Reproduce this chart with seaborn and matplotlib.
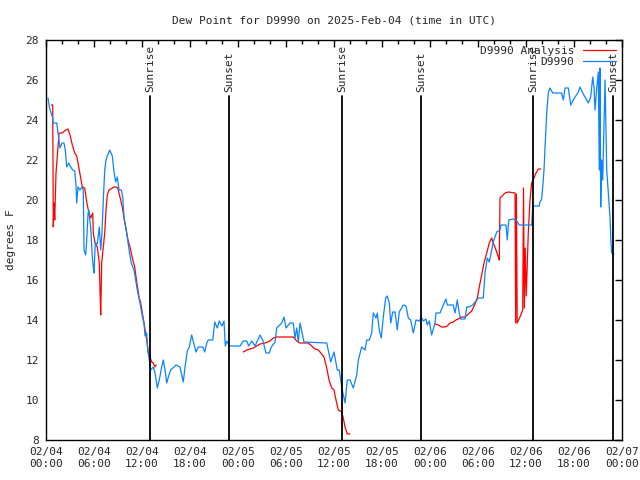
import seaborn as sns
import matplotlib.pyplot as plt
import pandas as pd
from matplotlib.lines import Line2D
from matplotlib.ticker import MultipleLocator

# hours since 2025-02-04 00:00 UTC, dew point in degrees F
obs_hours = [0.25, 0.44, 0.84, 0.88, 1.34, 1.59, 1.75, 2.0, 2.25, 2.41, 2.59, 2.84, 3.09, 3.34,
             3.59, 3.75, 3.84, 4.0, 4.25, 4.5, 4.66, 4.75, 4.96, 5.09, 5.25, 5.34, 5.59, 5.79,
             5.91, 6.0, 6.16, 6.41, 6.66, 6.84, 7.0, 7.16, 7.34, 7.5, 7.66, 7.88, 7.96, 8.29,
             8.5, 8.71, 8.91, 9.13, 9.41, 9.59, 9.75, 10.16, 10.38, 10.66, 11.0, 11.41, 11.75,
             12.04, 12.25, 12.38, 12.59, 12.71, 12.91, 13.09, 13.41, 13.63, 13.91, 14.16, 14.46,
             14.66, 14.88, 15.09, 15.29, 15.59, 16.25, 16.75, 17.16, 17.38, 17.66, 17.91, 18.21,
             18.75, 19.04, 19.59, 19.84, 20.09, 20.29, 20.84, 21.09, 21.41, 21.66, 22.0, 22.25,
             22.41, 22.59, 22.91, 24.25, 24.66, 25.09, 25.34, 25.71, 26.13, 26.75, 27.09, 27.5,
             27.91, 28.16, 28.63, 28.84, 29.46, 29.75, 30.0, 30.5, 30.91, 31.13, 31.34, 31.54,
             31.75, 32.25, 35.09, 35.59, 36.0, 36.41, 36.66, 36.96, 37.38, 37.66, 38.0, 38.41,
             38.84, 39.04, 39.46, 39.88, 40.09, 40.41, 40.71, 40.91, 41.25, 41.41, 41.66, 41.91,
             42.16, 42.46, 42.66, 42.91, 43.09, 43.34, 43.63, 43.91, 44.16, 44.66, 45.0, 45.29,
             45.59, 45.91, 46.25, 46.66, 46.91, 47.16, 47.5, 47.66, 47.91, 48.21, 48.63, 48.75,
             49.25, 49.66, 50.0, 50.16, 50.91, 51.13, 51.41, 51.66, 51.84, 52.38, 52.59, 52.91,
             53.34, 54.04, 54.66, 54.88, 55.16, 55.41, 55.71, 55.91, 56.34, 56.75, 56.88, 57.5,
             57.66, 57.84, 58.34, 58.75, 59.16, 59.88, 60.71, 60.84, 61.66, 61.75, 61.96, 62.09,
             62.25, 62.38, 62.59, 62.79, 63.0, 63.34, 64.46, 64.66, 64.88, 65.29, 65.59, 65.91,
             66.54, 66.75, 67.09, 67.59, 67.79, 68.09, 68.34, 68.5, 68.63, 68.84, 69.04, 69.16,
             69.25, 69.34, 69.46, 69.59, 69.88, 70.09, 70.29, 70.5, 70.59, 70.71, 71.0]
obs_dewpt = [25.1, 24.6, 24.1, 23.85, 23.85, 23.1, 22.6, 22.85, 22.85, 22.5, 21.65, 21.85, 21.65, 21.5,
             21.45, 20.75, 19.85, 20.65, 20.5, 20.65, 20.5, 17.5, 17.25, 18.0, 19.3, 19.5, 18.6, 17.15,
             16.65, 16.35, 17.85, 17.8, 18.65, 17.5, 18.35, 20.0, 21.5, 22.0, 22.2, 22.4, 22.5, 22.2,
             21.4, 20.9, 21.15, 20.5, 20.5, 20.15, 19.15, 18.15, 17.5, 16.85, 16.5, 15.5, 14.85,
             14.2, 13.85, 13.2, 13.35, 12.5, 12.0, 11.5, 11.65, 11.35, 10.6, 11.0, 11.65,
             12.0, 11.5, 10.85, 11.15, 11.5, 11.75, 11.65, 10.9, 11.65, 12.45, 12.65, 13.25,
             12.4, 12.65, 12.65, 12.4, 12.85, 13.0, 13.0, 13.9, 13.6, 13.95, 13.7, 13.95,
             12.7, 12.95, 12.7, 12.7, 12.95, 12.95, 12.7, 12.95, 12.7, 13.25, 13.0, 12.35,
             12.35, 12.65, 12.9, 13.6, 13.85, 14.15, 13.6, 13.85, 13.85, 13.1, 13.6, 12.9,
             13.85, 12.9, 12.85, 11.9, 12.4, 11.5, 11.5, 10.65, 9.85, 11.0, 11.0, 10.6,
             11.25, 12.0, 12.65, 12.5, 13.0, 13.0, 13.35, 14.35, 14.1, 14.35, 13.5, 13.1,
             14.15, 15.1, 15.2, 14.85, 13.85, 14.4, 14.4, 13.5, 14.4, 14.75, 14.7, 14.1,
             14.0, 13.35, 14.0, 13.95, 14.15, 13.95, 14.05, 13.75, 13.95, 13.25, 13.85, 14.35,
             14.35, 14.75, 15.05, 14.75, 14.75, 14.35, 15.0, 14.35, 14.05, 14.05, 14.65, 14.65,
             14.75, 15.1, 15.1, 16.35, 17.1, 16.9, 17.5, 17.9, 18.4, 18.5, 18.75, 18.75,
             18.0, 19.0, 19.05, 19.0, 18.75, 18.75, 18.75, 19.7, 19.7, 19.9, 20.05, 20.65,
             21.5, 22.65, 24.35, 25.35, 25.6, 25.35, 25.35, 25.0, 25.6, 25.6, 24.75, 25.0,
             25.4, 25.65, 25.35, 25.0, 24.85, 25.15, 26.15, 25.65, 24.5, 25.6, 26.4, 21.5,
             26.6, 19.65, 22.0, 21.0, 26.0, 21.5, 20.35, 19.15, 18.15, 17.35, 17.3]

# analysis comes in three pieces (gaps in between)
ana_hours_1 = [0.66, 0.84, 0.91, 1.0, 1.09, 1.25, 1.41, 1.63, 2.04, 2.46, 2.75, 3.0, 3.29, 3.59,
               3.84, 4.09, 4.34, 4.54, 4.84, 5.09, 5.29, 5.59, 5.84, 5.91, 6.13, 6.41, 6.66, 6.75,
               6.84, 6.96, 7.16, 7.34, 7.5, 7.66, 7.88, 8.5, 8.84, 9.0, 9.25, 9.54, 9.75, 9.96,
               10.25, 10.5, 10.79, 11.09, 11.34, 11.63, 11.84, 12.04, 12.25, 12.59, 12.79, 13.0,
               13.21, 13.41, 13.63, 13.75]
ana_dewpt_1 = [24.75, 24.75, 18.65, 19.85, 19.0, 21.35, 22.2, 23.35, 23.35, 23.5, 23.55, 23.25, 22.75, 22.35,
               22.2, 21.65, 21.1, 20.65, 20.6, 19.9, 19.5, 19.1, 19.35, 18.35, 17.85, 17.65, 16.85, 15.5,
               14.25, 16.85, 17.65, 18.35, 19.5, 20.25, 20.5, 20.65, 20.65, 20.55, 20.15, 19.65, 19.1, 18.65,
               18.0, 17.65, 17.1, 16.65, 15.9, 15.15, 14.85, 14.35, 13.85, 13.0, 12.4, 12.15,
               11.9, 11.85, 11.65, 11.75]
ana_hours_2 = [24.66, 25.09, 25.5, 25.91, 26.34, 26.75, 27.38, 28.0, 28.41, 28.84, 30.91, 31.34,
               31.75, 32.79, 33.21, 33.63, 34.04, 34.46, 34.75, 35.09, 35.38, 35.71, 36.0, 36.25,
               36.54, 36.96, 37.16, 37.38, 37.66, 38.0]
ana_dewpt_2 = [12.4, 12.5, 12.55, 12.6, 12.7, 12.8, 12.85, 12.95, 13.1, 13.15, 13.15, 12.95,
               12.85, 12.85, 12.7, 12.55, 12.5, 12.3, 12.15, 11.6, 11.0, 10.6, 10.5, 10.0,
               9.5, 9.4, 9.1, 8.65, 8.3, 8.3]
ana_hours_3 = [48.63, 49.04, 49.46, 49.88, 50.16, 50.5, 50.91, 51.25, 51.54, 51.96, 52.38, 52.79,
               53.21, 53.63, 53.91, 54.16, 54.46, 54.75, 55.09, 55.41, 55.71, 55.91, 56.25, 56.54,
               56.66, 56.75, 57.38, 57.79, 58.63, 58.71, 58.8, 58.9, 59.25, 59.59, 59.69, 59.79,
               59.9, 60.03, 60.29, 60.5, 60.71, 61.0, 61.25, 61.54, 61.84]
ana_dewpt_3 = [13.8, 13.75, 13.65, 13.65, 13.7, 13.85, 13.9, 14.0, 14.05, 14.15, 14.15, 14.3,
               14.45, 14.8, 15.1, 15.65, 16.25, 16.85, 17.35, 17.85, 18.1, 17.85, 17.5, 17.15,
               17.0, 20.1, 20.35, 20.4, 20.35, 13.85, 20.3, 13.85, 14.15, 14.5, 20.6, 14.6,
               17.6, 15.2, 18.4, 20.0, 20.85, 21.1, 21.35, 21.55, 21.55]

sun_hours = [13.04, 22.9, 37.0, 46.9, 60.9, 70.9]
sun_labels = ["Sunrise", "Sunset", "Sunrise", "Sunset", "Sunrise", "Sunset"]

tick_hours = list(range(0, 73, 6))
tick_labels = ["02/04\n00:00", "02/04\n06:00", "02/04\n12:00", "02/04\n18:00",
               "02/05\n00:00", "02/05\n06:00", "02/05\n12:00", "02/05\n18:00",
               "02/06\n00:00", "02/06\n06:00", "02/06\n12:00", "02/06\n18:00",
               "02/07\n00:00"]

obs_df = pd.DataFrame({"hour": obs_hours, "dewpt": obs_dewpt})
ana_df = pd.concat([
    pd.DataFrame({"hour": ana_hours_1, "dewpt": ana_dewpt_1, "seg": 1}),
    pd.DataFrame({"hour": ana_hours_2, "dewpt": ana_dewpt_2, "seg": 2}),
    pd.DataFrame({"hour": ana_hours_3, "dewpt": ana_dewpt_3, "seg": 3}),
])

sns.set_theme(style="white")
plt.rcParams["font.family"] = ["DejaVu Sans Mono"]

fig = plt.figure(figsize=(6.4, 4.8), dpi=100)
ax = fig.add_axes([46 / 640, 40 / 480, 576 / 640, 400 / 480])

blue = "#0a84ff"
sns.lineplot(data=ana_df, x="hour", y="dewpt", units="seg", estimator=None, sort=False,
             color="red", linewidth=0.9, ax=ax)
sns.lineplot(data=obs_df, x="hour", y="dewpt", estimator=None, sort=False,
             color=blue, linewidth=0.9, ax=ax)

for h, lab in zip(sun_hours, sun_labels):
    ax.plot([h, h], [8, 25.2], color="black", linewidth=1.3)
    ax.text(h, 25.4, lab, rotation=90, ha="center", va="bottom", fontsize=8)

ax.set_xlim(0, 72)
ax.set_ylim(8, 28)
ax.set_xticks(tick_hours)
ax.set_xticklabels(tick_labels)
ax.xaxis.set_minor_locator(MultipleLocator(2))
ax.set_yticks(range(8, 29, 2))
ax.tick_params(axis="both", which="both", direction="in", top=True, right=True,
               labelsize=8, color="black", pad=5)
ax.tick_params(which="major", length=5, width=1)
ax.tick_params(which="minor", length=3, width=1)
for s in ax.spines.values():
    s.set_color("black")
    s.set_linewidth(1)

ax.set_xlabel("")
ax.set_ylabel("degrees F", fontsize=8, labelpad=7)
ax.set_title("Dew Point for D9990 on 2025-Feb-04 (time in UTC)", fontsize=8, pad=12)

handles = [Line2D([], [], color="red", linewidth=0.9), Line2D([], [], color=blue, linewidth=0.9)]
ax.legend(handles, ["D9990 Analysis", "D9990"], loc="upper right", frameon=False,
          markerfirst=False, fontsize=8, handlelength=3.0, borderaxespad=0.1,
          labelspacing=0.15, handletextpad=0.8)

fig.savefig("out.png", dpi=100)
